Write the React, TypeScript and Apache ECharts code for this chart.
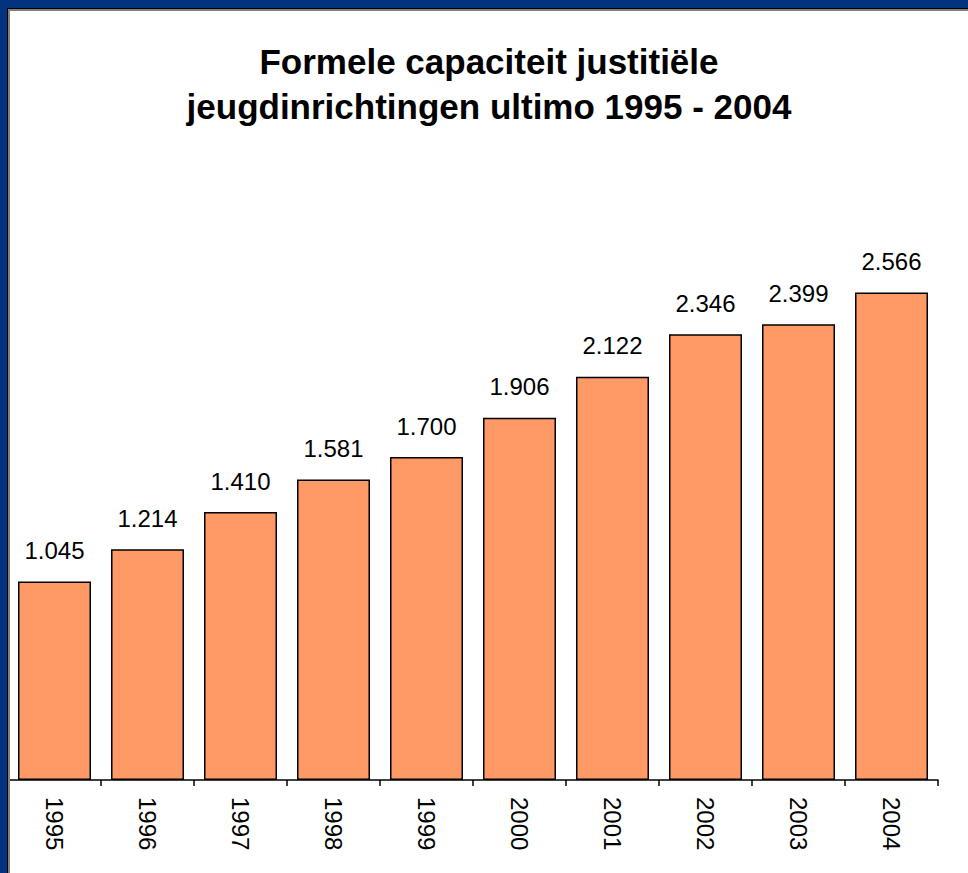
import React, { useEffect, useRef } from "react";
import * as echarts from "echarts";

const TITLE_LINES = ["Formele capaciteit justitiële", "jeugdinrichtingen ultimo 1995 - 2004"];
const YEARS = ["1995", "1996", "1997", "1998", "1999", "2000", "2001", "2002", "2003", "2004"];
const CAPACITY = [1045, 1214, 1410, 1581, 1700, 1906, 2122, 2346, 2399, 2566];

const fmt = (v: number) => {
  const s = String(Math.round(v));
  return s.replace(/\B(?=(\d{3})+(?!\d))/g, ".");
};

export default function App() {
  const ref = useRef<HTMLDivElement>(null);
  useEffect(() => {
    if (!ref.current) return;
    const chart = echarts.init(ref.current, null, { renderer: "svg" });
    chart.setOption({
      animation: false,
      backgroundColor: "#ffffff",
      title: {
        text: TITLE_LINES.join("\n"),
        left: 484,
        top: 34,
        textAlign: "center",
        textStyle: {
          fontFamily: "Liberation Sans, Arial, sans-serif",
          fontWeight: "bold",
          fontSize: 35,
          lineHeight: 45,
          color: "#000000",
        },
      },
      grid: { left: 8, right: 30, top: 210, bottom: 93, containLabel: false },
      xAxis: {
        type: "category",
        data: YEARS,
        axisLine: { lineStyle: { color: "#000000", width: 1.5 } },
        axisTick: { show: true, length: 6, lineStyle: { color: "#000000", width: 1.5 } },
        axisLabel: {
          rotate: -90,
          margin: 17,
          fontFamily: "Liberation Sans, Arial, sans-serif",
          fontSize: 24,
          color: "#000000",
        },
      },
      yAxis: {
        type: "value",
        min: 0,
        max: 3000,
        show: false,
        splitLine: { show: false },
      },
      series: [
        {
          type: "bar",
          data: CAPACITY,
          barWidth: 73,
          itemStyle: { color: "#FF9966", borderColor: "#000000", borderWidth: 1.5 },
          label: {
            show: true,
            position: "top",
            distance: 19,
            formatter: (p: any) => fmt(p.value),
            fontFamily: "Liberation Sans, Arial, sans-serif",
            fontSize: 24,
            color: "#000000",
          },
        },
      ],
    });
    return () => chart.dispose();
  }, []);

  const navy = "#00347F";
  return (
    <div style={{ position: "fixed", left: 0, top: 0, width: 968, height: 873, background: "#ffffff" }}>
      <div ref={ref} style={{ position: "absolute", left: 0, top: 0, width: 968, height: 873 }} />
      <div style={{ position: "absolute", left: 0, top: 0, width: 968, height: 8, background: navy }} />
      <div style={{ position: "absolute", left: 0, top: 0, width: 7, height: 873, background: navy }} />
      <div style={{ position: "absolute", left: 7, top: 8, width: 961, height: 1, background: "#000000" }} />
      <div style={{ position: "absolute", left: 7, top: 8, width: 1, height: 865, background: "#000000" }} />
      <div style={{ position: "absolute", left: 8, top: 9, width: 960, height: 2, background: "#808080" }} />
      <div style={{ position: "absolute", left: 8, top: 9, width: 2, height: 864, background: "#808080" }} />
    </div>
  );
}
